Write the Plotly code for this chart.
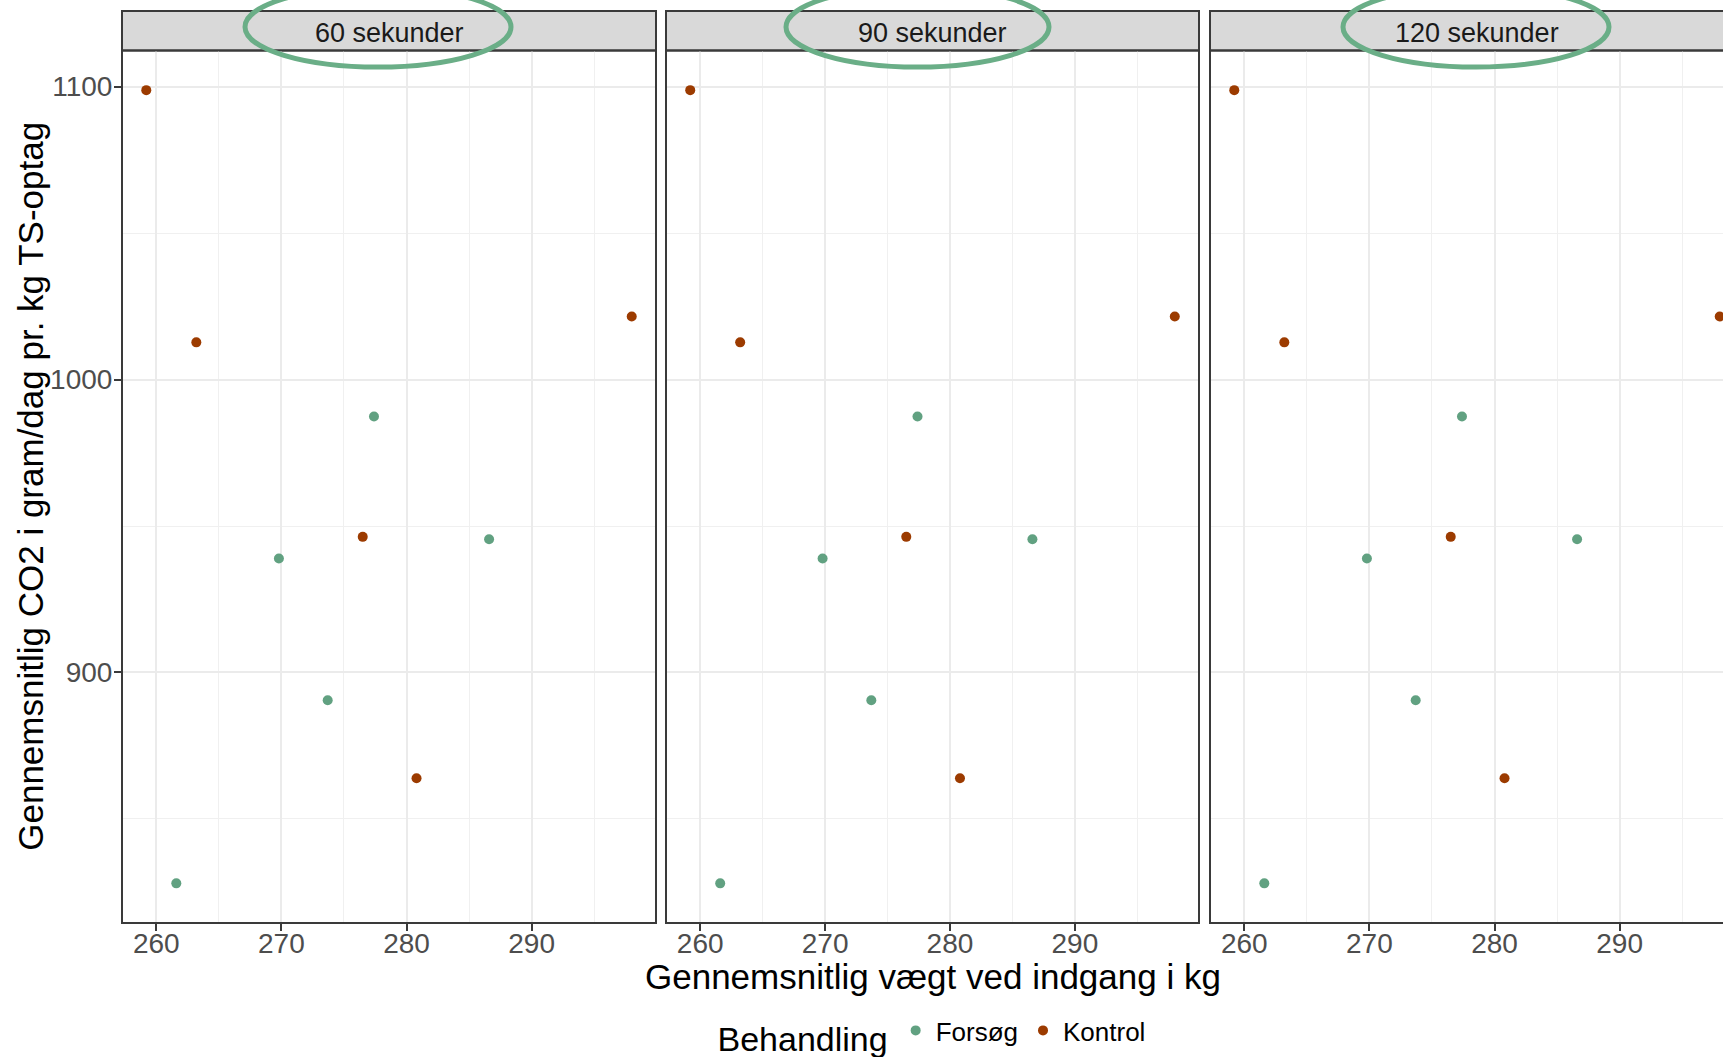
import plotly.graph_objects as go

# ---------------- data ----------------
facets = ["60 sekunder", "90 sekunder", "120 sekunder"]
forsog_x = [261.6, 269.8, 273.7, 277.4, 286.6]
forsog_y = [828.0, 938.9, 890.5, 987.4, 945.5]
kontrol_x = [259.2, 263.2, 276.5, 280.8, 298.0]
kontrol_y = [1098.8, 1012.7, 946.3, 863.9, 1021.5]
x_ticks = [260, 270, 280, 290]
y_ticks = [900, 1000, 1100]
groups = ["Forsøg", "Kontrol"]

# ---------------- style ----------------
W, H = 1723, 1057
GREEN = "#61a181"
BROWN = "#9c3b00"
ELLIPSE = "#6aae87"
FONT = "Liberation Sans, Arial, sans-serif"
BORDER = "#3a3a3a"


def px(v):
    return v / W


def py(v):
    return 1 - v / H


# panel pixel extents (third panel is cropped by the image edge)
panels = [(122, 656), (666, 1199), (1210, 1744)]
y_top, y_bot = 50.5, 923
strip_top = 11

allx = forsog_x + kontrol_x
ally = forsog_y + kontrol_y
sx = max(allx) - min(allx)
sy = max(ally) - min(ally)
xr = [min(allx) - 0.05 * sx, max(allx) + 0.05 * sx]
yr = [min(ally) - 0.05 * sy, max(ally) + 0.05 * sy]

fig = go.Figure()
shapes = []
annotations = []

for i, (a, b) in enumerate(panels):
    n = "" if i == 0 else str(i + 1)
    d0 = px(a)
    d1 = min(px(b), 1.0)
    frac = (d1 - d0) / (px(b) - px(a))
    rng = [xr[0], xr[0] + (xr[1] - xr[0]) * frac]
    for g, xs, ys, col in [("Forsøg", forsog_x, forsog_y, GREEN),
                           ("Kontrol", kontrol_x, kontrol_y, BROWN)]:
        fig.add_trace(go.Scatter(
            x=xs, y=ys, mode="markers", name=g, legendgroup=g,
            showlegend=(i == 0), cliponaxis=True,
            marker=dict(color=col, size=10, line=dict(width=0)),
            xaxis="x" + n, yaxis="y" + n))
    common_grid = dict(showgrid=True, gridcolor="#ebebeb", gridwidth=2,
                       zeroline=False, showline=False, automargin=False)
    fig.update_layout(**{
        "xaxis" + n: dict(
            domain=[d0, d1], range=rng, anchor="y" + n,
            tickmode="array", tickvals=x_ticks,
            ticks="outside", ticklen=7, tickwidth=2, tickcolor=BORDER,
            ticklabelstandoff=-12,
            tickfont=dict(size=28, color="#4d4d4d", family=FONT),
            minor=dict(tickmode="linear", tick0=255, dtick=10, showgrid=True,
                       gridcolor="#f0f0f0", gridwidth=1, ticks=""),
            **common_grid),
        "yaxis" + n: dict(
            domain=[py(y_bot), py(y_top)], range=yr, anchor="x" + n,
            tickmode="array", tickvals=y_ticks,
            ticks="outside" if i == 0 else "", ticklen=7, tickwidth=2,
            tickcolor=BORDER, showticklabels=(i == 0),
            ticklabelstandoff=-4,
            tickfont=dict(size=28, color="#4d4d4d", family=FONT),
            minor=dict(tickmode="linear", tick0=850, dtick=100, showgrid=True,
                       gridcolor="#f0f0f0", gridwidth=1, ticks=""),
            **common_grid),
    })
    # strip background
    shapes.append(dict(type="rect", xref="paper", yref="paper",
                       x0=px(a), x1=px(b), y0=py(y_top), y1=py(strip_top),
                       fillcolor="#d9d9d9", line=dict(color=BORDER, width=2),
                       layer="below"))
    # panel border
    if b <= W:
        shapes.append(dict(type="rect", xref="paper", yref="paper",
                           x0=px(a), x1=px(b), y0=py(y_bot), y1=py(y_top),
                           line=dict(color=BORDER, width=2), layer="above"))
    else:
        path = (f"M {px(b)},{py(y_top)} L {px(a)},{py(y_top)} "
                f"L {px(a)},{py(y_bot)} L {px(b)},{py(y_bot)}")
        shapes.append(dict(type="path", xref="paper", yref="paper", path=path,
                           line=dict(color=BORDER, width=2), layer="above"))
    annotations.append(dict(text=facets[i], xref="paper", yref="paper",
                            x=px((a + b) / 2), y=py(33.5), xanchor="center",
                            yanchor="middle", showarrow=False,
                            font=dict(size=27, color="#1a1a1a", family=FONT)))

# hand-drawn ellipses around strip labels
for (x0, x1) in [(245, 511), (786, 1049), (1343, 1609)]:
    shapes.append(dict(type="circle", xref="paper", yref="paper",
                       x0=px(x0), x1=px(x1), y0=py(67), y1=py(-13),
                       line=dict(color=ELLIPSE, width=5), layer="above"))

annotations.append(dict(text="Gennemsnitlig vægt ved indgang i kg",
                        xref="paper", yref="paper", x=px(933), y=py(976),
                        xanchor="center", yanchor="middle", showarrow=False,
                        font=dict(size=35, color="black", family=FONT)))
annotations.append(dict(text="Gennemsnitlig CO2 i gram/dag pr. kg TS-optag",
                        xref="paper", yref="paper", x=px(31),
                        y=py((y_top + y_bot) / 2), textangle=-90,
                        xanchor="center", yanchor="middle", showarrow=False,
                        font=dict(size=35, color="black", family=FONT)))

fig.update_layout(
    template="none",
    width=W, height=H,
    margin=dict(l=0, r=0, t=0, b=0, autoexpand=False),
    paper_bgcolor="white", plot_bgcolor="white",
    shapes=shapes, annotations=annotations,
    showlegend=True,
    legend=dict(orientation="h", x=px(933), xanchor="center",
                y=-5 / H, yanchor="bottom",
                title=dict(text="Behandling", side="left",
                           font=dict(size=34, color="black", family=FONT)),
                font=dict(size=26, color="black", family=FONT),
                itemwidth=30, bgcolor="rgba(0,0,0,0)"),
    font=dict(family=FONT),
)

fig.write_html("out.html", config={"displayModeBar": False},
               post_script="document.body.style.margin='0';"
                           "document.body.style.overflow='hidden';")
